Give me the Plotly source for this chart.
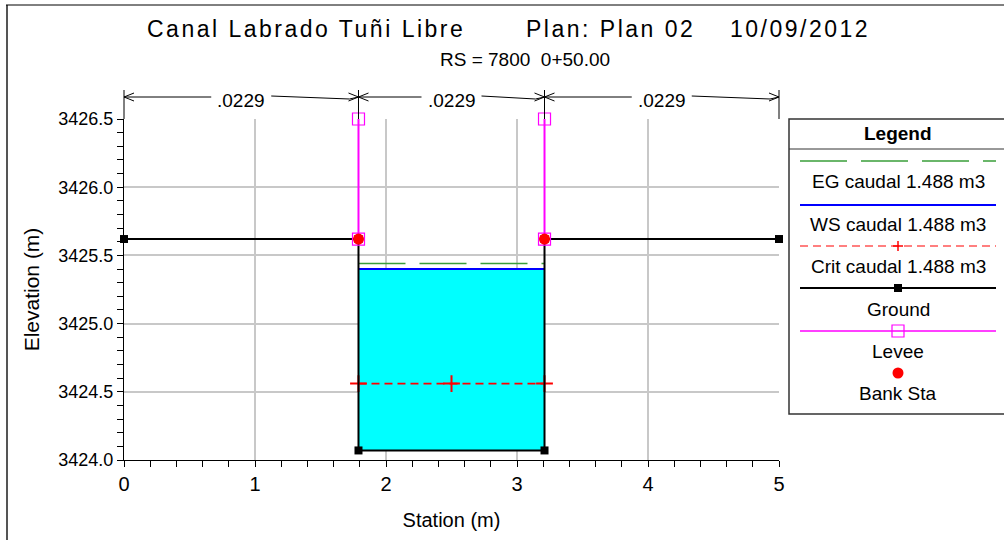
import plotly.graph_objects as go

# ---------------- data ----------------
ground_x = [0.0, 1.79, 1.79, 3.21, 3.21, 5.0]
ground_y = [3425.62, 3425.62, 3424.07, 3424.07, 3425.62, 3425.62]
bank_x = [1.79, 3.21]
bank_y = [3425.62, 3425.62]
levee_x = [1.79, 3.21]
levee_top = [3426.50, 3426.50]
ws_elev = 3425.40
eg_elev = 3425.44
crit_elev = 3424.56
crit_x = [1.79, 2.50, 3.21]
n_values = [".0229", ".0229", ".0229"]
n_stations = [0.0, 1.79, 3.21, 5.0]
x_range = [0, 5]
y_range = [3424.0, 3426.5]
x_ticks = [0, 1, 2, 3, 4, 5]
y_ticks = [3424.0, 3424.5, 3425.0, 3425.5, 3426.0, 3426.5]
legend_labels = ["EG caudal 1.488 m3", "WS caudal 1.488 m3", "Crit caudal 1.488 m3",
                 "Ground", "Levee", "Bank Sta"]
title_parts = ["Canal Labrado Tuñi Libre", "Plan: Plan 02", "10/09/2012"]
subtitle = "RS = 7800  0+50.00"

# ---------------- layout geometry (pixels) ----------------
W, H = 1004, 540
ML, MR, MT, MB = 124, 225, 119, 80
PW = W - ML - MR
PH = H - MT - MB
FONT = "Liberation Sans, Arial, sans-serif"

def px(p):  # pixel x -> paper
    return (p - ML) / PW

def py(p):  # pixel y -> paper
    return (H - MB - p) / PH

def dx(x):  # data x -> paper
    return (x - x_range[0]) / (x_range[1] - x_range[0])

fig = go.Figure()

bed = min(ground_y)
# water fill
fig.add_trace(go.Scatter(
    x=[bank_x[0], bank_x[0], bank_x[1], bank_x[1], bank_x[0]],
    y=[ws_elev, bed, bed, ws_elev, ws_elev],
    fill="toself", fillcolor="#00ffff", mode="lines", line=dict(width=0),
    showlegend=False, hoverinfo="skip"))
# EG
fig.add_trace(go.Scatter(x=bank_x, y=[eg_elev, eg_elev], mode="lines",
                         line=dict(color="#3a9e3a", width=1.5, dash="47px,14px"),
                         showlegend=False))
# WS
fig.add_trace(go.Scatter(x=bank_x, y=[ws_elev, ws_elev], mode="lines",
                         line=dict(color="#0000ff", width=2), showlegend=False))
# Crit
fig.add_trace(go.Scatter(x=crit_x, y=[crit_elev] * len(crit_x), mode="lines+markers",
                         line=dict(color="#ff0000", width=1.6, dash="8px,5px"),
                         marker=dict(symbol="cross-thin", size=12,
                                     line=dict(color="#ff0000", width=2)),
                         cliponaxis=False, showlegend=False))
# Ground
fig.add_trace(go.Scatter(x=ground_x, y=ground_y, mode="lines+markers",
                         line=dict(color="black", width=2),
                         marker=dict(symbol="square", size=8, color="black"),
                         cliponaxis=False, showlegend=False))
# Levee
lx, ly = [], []
for xv, top, base in zip(levee_x, levee_top, bank_y):
    lx += [xv, xv, None]
    ly += [base, top, None]
fig.add_trace(go.Scatter(x=lx, y=ly, mode="lines+markers",
                         line=dict(color="#ff00ff", width=2),
                         marker=dict(symbol="square-open", size=12,
                                     line=dict(color="#ff00ff", width=1.2)),
                         cliponaxis=False, showlegend=False))
# Bank stations
fig.add_trace(go.Scatter(x=bank_x, y=bank_y, mode="markers",
                         marker=dict(symbol="circle", size=11, color="#ff0000"),
                         cliponaxis=False, showlegend=False))

shapes = []
annotations = []

# outer frame
shapes.append(dict(type="line", xref="paper", yref="paper", x0=px(7), x1=px(7),
                   y0=py(5), y1=py(545), line=dict(color="#555555", width=2)))
shapes.append(dict(type="line", xref="paper", yref="paper", x0=px(6), x1=px(1010),
                   y0=py(5), y1=py(5), line=dict(color="black", width=1)))

# n-value boundaries and arrows
yA = 97
for s in n_stations:
    shapes.append(dict(type="line", xref="paper", yref="paper", x0=dx(s), x1=dx(s),
                       y0=py(90), y1=1, line=dict(color="black", width=1)))
for i, nv in enumerate(n_values):
    xl, xr = dx(n_stations[i]), dx(n_stations[i + 1])
    mid = (xl + xr) / 2
    half = 30 / PW
    annotations.append(dict(xref="paper", yref="paper", x=mid, y=py(100), text=nv,
                            showarrow=False, font=dict(size=19, family=FONT, color="black"),
                            xanchor="center", yanchor="middle"))
    # left segment
    shapes.append(dict(type="line", xref="paper", yref="paper", x0=xl, x1=mid - half,
                       y0=py(yA), y1=py(yA), line=dict(color="black", width=1)))
    shapes.append(dict(type="path", xref="paper", yref="paper",
                       path=f"M {xl + 10/PW},{py(yA-4)} L {xl},{py(yA)} L {xl + 10/PW},{py(yA+4)}",
                       line=dict(color="black", width=1)))
    # right segment
    shapes.append(dict(type="path", xref="paper", yref="paper",
                       path=f"M {mid + half},{py(yA-1)} L {xr - 9/PW},{py(yA+2)} L {xr},{py(yA)}",
                       line=dict(color="black", width=1)))
    shapes.append(dict(type="path", xref="paper", yref="paper",
                       path=f"M {xr - 10/PW},{py(yA-4)} L {xr},{py(yA)} L {xr - 10/PW},{py(yA+4)}",
                       line=dict(color="black", width=1)))

# titles
title_centers = [306, 610, 800]
for t, c in zip(title_parts, title_centers):
    annotations.append(dict(xref="paper", yref="paper", x=px(c), y=py(29),
                            text=f'<span style="letter-spacing:2.5px">{t}</span>',
                            showarrow=False, xanchor="center", yanchor="middle",
                            font=dict(size=23, family=FONT, color="black")))
annotations.append(dict(xref="paper", yref="paper", x=px(525), y=py(60), text=subtitle,
                        showarrow=False, xanchor="center", yanchor="middle",
                        font=dict(size=19, family=FONT, color="black")))

# legend box
LX0, LX1, LY0, LY1 = 789, 1010, 119, 414
shapes.append(dict(type="rect", xref="paper", yref="paper", x0=px(LX0), x1=px(LX1),
                   y0=py(LY0), y1=py(LY1), line=dict(color="#333333", width=1.5),
                   fillcolor="white", layer="below"))
shapes.append(dict(type="line", xref="paper", yref="paper", x0=px(LX0), x1=px(LX1),
                   y0=py(149), y1=py(149), line=dict(color="#333333", width=1)))
LC = 898
annotations.append(dict(xref="paper", yref="paper", x=px(LC), y=py(133), text="<b>Legend</b>",
                        showarrow=False, xanchor="center", yanchor="middle",
                        font=dict(size=19, family=FONT, color="black")))
sym_rows = [161, 205, 246, 288, 331, 373]
txt_rows = [182, 224, 266, 309, 351, 393]
line_styles = [dict(color="#3a9e3a", width=1.5, dash="47px,14px"),
               dict(color="#0000ff", width=2),
               dict(color="#ff0000", width=1.2, dash="8px,5px"),
               dict(color="black", width=2),
               dict(color="#ff00ff", width=1.5),
               None]
for ry, st in zip(sym_rows, line_styles):
    if st is not None:
        shapes.append(dict(type="line", xref="paper", yref="paper", x0=px(800), x1=px(996),
                           y0=py(ry), y1=py(ry), line=st))
# crit cross
shapes.append(dict(type="line", xref="paper", yref="paper", xsizemode="pixel",
                   xanchor=px(LC), x0=-5, x1=5, y0=py(sym_rows[2]), y1=py(sym_rows[2]),
                   line=dict(color="#ff0000", width=1.5)))
shapes.append(dict(type="line", xref="paper", yref="paper", ysizemode="pixel",
                   yanchor=py(sym_rows[2]), y0=-5, y1=5, x0=px(LC), x1=px(LC),
                   line=dict(color="#ff0000", width=1.5)))
# ground square
shapes.append(dict(type="rect", xref="paper", yref="paper", xsizemode="pixel", ysizemode="pixel",
                   xanchor=px(LC), yanchor=py(sym_rows[3]), x0=-4, x1=4, y0=-4, y1=4,
                   fillcolor="black", line=dict(width=0)))
# levee open square
shapes.append(dict(type="rect", xref="paper", yref="paper", xsizemode="pixel", ysizemode="pixel",
                   xanchor=px(LC), yanchor=py(sym_rows[4]), x0=-6, x1=6, y0=-6, y1=6,
                   line=dict(color="#ff00ff", width=1.2)))
# bank sta dot
shapes.append(dict(type="circle", xref="paper", yref="paper", xsizemode="pixel", ysizemode="pixel",
                   xanchor=px(LC), yanchor=py(sym_rows[5]), x0=-5.5, x1=5.5, y0=-5.5, y1=5.5,
                   fillcolor="#ff0000", line=dict(width=0)))
for ty, lab in zip(txt_rows, legend_labels):
    annotations.append(dict(xref="paper", yref="paper", x=px(LC), y=py(ty), text=lab,
                            showarrow=False, xanchor="center", yanchor="middle",
                            font=dict(size=19, family=FONT, color="black")))

fig.update_layout(
    width=W, height=H,
    margin=dict(l=ML, r=MR, t=MT, b=MB, autoexpand=False),
    paper_bgcolor="white", plot_bgcolor="white",
    font=dict(family=FONT, color="black"),
    shapes=shapes, annotations=annotations, showlegend=False,
    xaxis=dict(range=x_range, tickvals=x_ticks, ticktext=[str(v) for v in x_ticks],
               showgrid=True, gridcolor="#c8c8c8", gridwidth=2, zeroline=False,
               showline=True, linecolor="black", linewidth=1,
               ticks="outside", ticklen=6, tickcolor="black",
               tickfont=dict(size=20, family=FONT),
               minor=dict(dtick=0.2, ticks="outside", ticklen=6, tickcolor="black", showgrid=False),
               title=dict(text="Station (m)", font=dict(size=20, family=FONT), standoff=18),
               automargin=False),
    yaxis=dict(range=y_range, tickvals=y_ticks, ticktext=[f"{v:.1f}" for v in y_ticks],
               showgrid=True, gridcolor="#c8c8c8", gridwidth=2, zeroline=False,
               showline=True, linecolor="black", linewidth=1,
               ticks="outside", ticklen=6, tickcolor="black",
               tickfont=dict(size=18, family=FONT),
               minor=dict(dtick=0.1, ticks="outside", ticklen=6, tickcolor="black", showgrid=False),
               title=dict(text="Elevation (m)", font=dict(size=21, family=FONT), standoff=12),
               automargin=False),
)

fig.write_html("out.html")
